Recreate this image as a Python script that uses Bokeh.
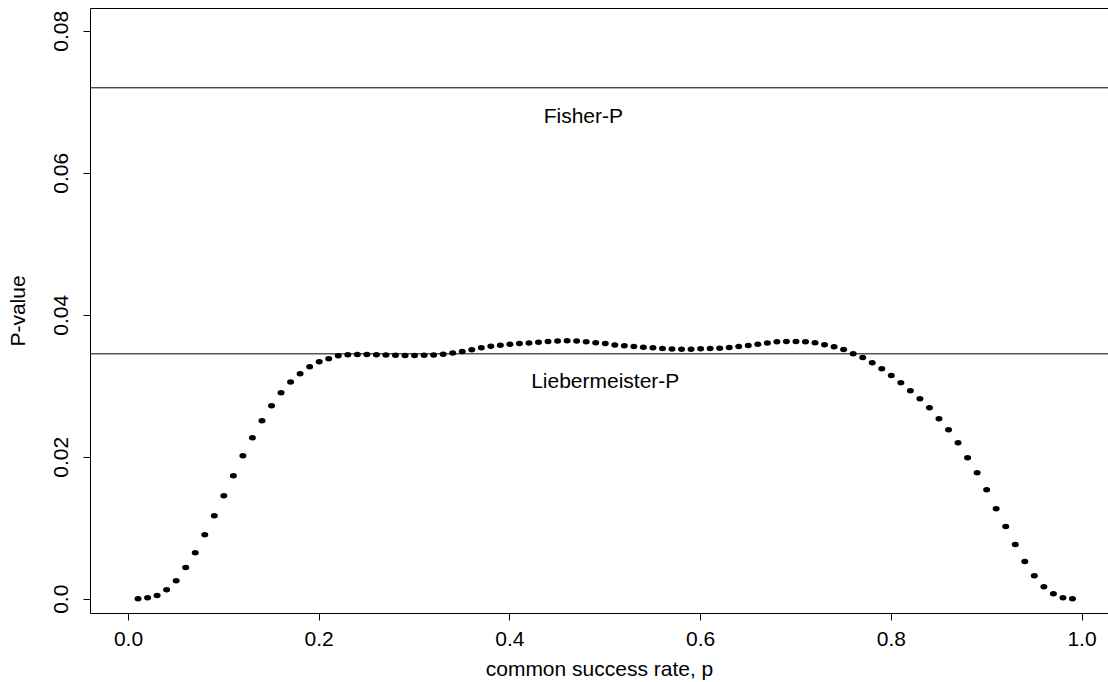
from bokeh.plotting import figure
from bokeh.models import Span, FixedTicker, CustomJSTickFormatter, LinearAxis, Range1d, ColumnDataSource
from bokeh.core.properties import value
from bokeh.embed import file_html
from bokeh.resources import INLINE

success_rate = [0.01, 0.02, 0.03, 0.04, 0.05, 0.06, 0.07, 0.08, 0.09, 0.10,
                0.11, 0.12, 0.13, 0.14, 0.15, 0.16, 0.17, 0.18, 0.19, 0.20,
                0.21, 0.22, 0.23, 0.24, 0.25, 0.26, 0.27, 0.28, 0.29, 0.30,
                0.31, 0.32, 0.33, 0.34, 0.35, 0.36, 0.37, 0.38, 0.39, 0.40,
                0.41, 0.42, 0.43, 0.44, 0.45, 0.46, 0.47, 0.48, 0.49, 0.50,
                0.51, 0.52, 0.53, 0.54, 0.55, 0.56, 0.57, 0.58, 0.59, 0.60,
                0.61, 0.62, 0.63, 0.64, 0.65, 0.66, 0.67, 0.68, 0.69, 0.70,
                0.71, 0.72, 0.73, 0.74, 0.75, 0.76, 0.77, 0.78, 0.79, 0.80,
                0.81, 0.82, 0.83, 0.84, 0.85, 0.86, 0.87, 0.88, 0.89, 0.90,
                0.91, 0.92, 0.93, 0.94, 0.95, 0.96, 0.97, 0.98, 0.99]

p_value = [0.00005, 0.00019, 0.00052, 0.00132, 0.00259, 0.00446, 0.00653, 0.00907, 0.01174, 0.01456,
           0.01738, 0.02019, 0.02273, 0.02512, 0.02723, 0.02907, 0.03061, 0.03174, 0.03273, 0.03343,
           0.03385, 0.03428, 0.03442, 0.03445, 0.03445, 0.03443, 0.03440, 0.03435, 0.03432, 0.03432,
           0.03435, 0.03440, 0.03450, 0.03468, 0.03490, 0.03515, 0.03542, 0.03562, 0.03578, 0.03590,
           0.03600, 0.03610, 0.03620, 0.03630, 0.03638, 0.03642, 0.03635, 0.03625, 0.03612, 0.03600,
           0.03582, 0.03570, 0.03559, 0.03550, 0.03540, 0.03531, 0.03524, 0.03522, 0.03522, 0.03526,
           0.03531, 0.03536, 0.03545, 0.03559, 0.03573, 0.03592, 0.03610, 0.03625, 0.03628, 0.03628,
           0.03625, 0.03611, 0.03583, 0.03555, 0.03517, 0.03458, 0.03404, 0.03329, 0.03245, 0.03151,
           0.03047, 0.02935, 0.02822, 0.02695, 0.02540, 0.02385, 0.02202, 0.01991, 0.01780, 0.01540,
           0.01273, 0.01024, 0.00770, 0.00531, 0.00329, 0.00174, 0.00076, 0.00019, 0.00005]

fisher_p = 0.07203
liebermeister_p = 0.03456

x_ticks = [0.0, 0.2, 0.4, 0.6, 0.8, 1.0]
y_ticks = [0.0, 0.02, 0.04, 0.06, 0.08]

FONT = "Liberation Sans"
FS = "21px"

p = figure(width=1108, height=682, output_backend="svg", toolbar_location=None,
           x_range=Range1d(-0.03985, 1.02779), y_range=Range1d(-0.002014, 0.0832),
           min_border_left=90, min_border_right=0, min_border_top=8, min_border_bottom=69,
           background_fill_color="white", border_fill_color="white")
p.outline_line_color = None
p.grid.visible = False

src = ColumnDataSource(dict(x=success_rate, y=p_value))
p.ellipse(x="x", y="y", width=7, height=5.5, width_units="screen", height_units="screen",
          source=src, fill_color="black", line_color=None)

p.add_layout(Span(location=fisher_p, dimension="width", line_color="black", line_width=1))
p.add_layout(Span(location=liebermeister_p, dimension="width", line_color="black", line_width=1))

p.text(x=[0.477], y=[0.06809], text=["Fisher-P"], text_align="center", text_baseline="alphabetic",
       text_font=value(FONT), text_font_size=value(FS), text_color="black")
p.text(x=[0.5], y=[0.03076], text=["Liebermeister-P"], text_align="center", text_baseline="alphabetic",
       text_font=value(FONT), text_font_size=value(FS), text_color="black")

for ax in (p.xaxis[0], p.yaxis[0]):
    ax.axis_line_color = "black"
    ax.major_tick_line_color = "black"
    ax.major_tick_out = 7
    ax.major_tick_in = 0
    ax.minor_tick_line_color = None
    ax.major_label_text_font = FONT
    ax.major_label_text_font_size = FS
    ax.major_label_text_color = "black"
    ax.axis_label_text_font = FONT
    ax.axis_label_text_font_size = FS
    ax.axis_label_text_font_style = "normal"
    ax.axis_label_text_color = "black"

p.xaxis[0].ticker = FixedTicker(ticks=x_ticks)
p.xaxis[0].formatter = CustomJSTickFormatter(code="return tick.toFixed(1);")
p.xaxis[0].axis_label = "common success rate, p"
p.xaxis[0].major_label_standoff = 11
p.xaxis[0].axis_label_standoff = 8

p.yaxis[0].ticker = FixedTicker(ticks=y_ticks)
p.yaxis[0].formatter = CustomJSTickFormatter(code="return tick == 0 ? '0.0' : tick.toFixed(2);")
p.yaxis[0].major_label_orientation = "vertical"
p.yaxis[0].axis_label = "P-value"
p.yaxis[0].major_label_standoff = 15
p.yaxis[0].axis_label_standoff = 23

top_axis = LinearAxis(ticker=FixedTicker(ticks=[]), axis_line_color="black",
                      major_tick_line_color=None, minor_tick_line_color=None,
                      major_label_text_font_size="0px")
p.add_layout(top_axis, "above")

open("out.html", "w").write(file_html(p, INLINE))
